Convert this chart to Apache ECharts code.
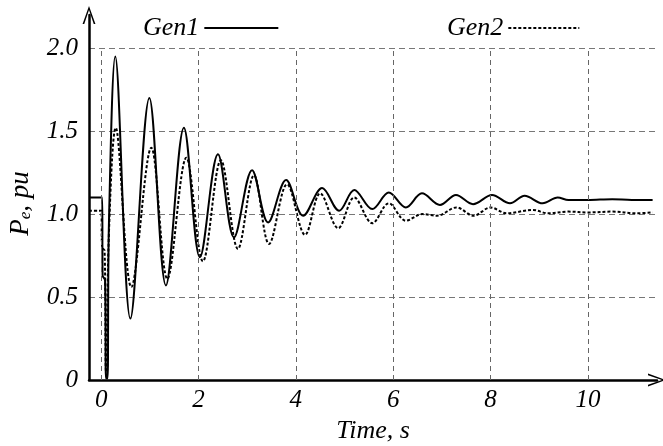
<!DOCTYPE html>
<html>
<head>
<meta charset="utf-8">
<script src="https://cdn.jsdelivr.net/npm/echarts@6/dist/echarts.min.js"></script>
<style>
  html, body { margin: 0; padding: 0; background: #fff; }
  #main { width: 663px; height: 446px; }
</style>
</head>
<body>
<div id="main"></div>
<script>
// time (s), power (pu)
var gen1 = [
  [-0.25, 1.10], [0.02, 1.10], [0.03, 0.63], [0.08, 0.60], [0.10, 0.01], [0.13, 0.01],
  [0.16, 0.95], [0.29, 1.95], [0.60, 0.37], [0.99, 1.70], [1.33, 0.57], [1.70, 1.52],
  [2.03, 0.74], [2.40, 1.36], [2.73, 0.86], [3.10, 1.265], [3.43, 0.95], [3.80, 1.205],
  [4.15, 0.99], [4.54, 1.157], [4.89, 1.02], [5.20, 1.145], [5.57, 1.03], [5.91, 1.13],
  [6.26, 1.04], [6.59, 1.125], [6.96, 1.055], [7.29, 1.115], [7.64, 1.06], [8.03, 1.115],
  [8.40, 1.065], [8.70, 1.11], [9.07, 1.065], [9.38, 1.10], [9.60, 1.085], [10.0, 1.085],
  [10.5, 1.09], [10.9, 1.085], [11.33, 1.085]
];
var gen2 = [
  [-0.25, 1.02], [0.0, 1.02], [0.02, 0.80], [0.07, 0.78], [0.10, 0.05], [0.12, 0.05],
  [0.15, 0.80], [0.30, 1.52], [0.62, 0.56], [1.03, 1.40], [1.36, 0.61], [1.75, 1.34],
  [2.09, 0.715], [2.46, 1.325], [2.81, 0.79], [3.14, 1.235], [3.45, 0.82], [3.82, 1.18],
  [4.19, 0.875], [4.50, 1.125], [4.87, 0.915], [5.20, 1.10], [5.57, 0.945], [5.91, 1.065],
  [6.26, 0.96], [6.60, 1.00], [6.90, 0.99], [7.30, 1.04], [7.65, 0.99], [8.00, 1.04],
  [8.33, 1.005], [8.87, 1.025], [9.18, 1.005], [9.60, 1.015], [10.0, 1.01], [10.5, 1.015],
  [11.0, 1.005], [11.33, 1.01]
];
var xTicks = [0, 2, 4, 6, 8, 10];
var yTicks = [0, 0.5, 1.0, 1.5, 2.0];
var seriesNames = ['Gen1', 'Gen2'];

var serif = 'Liberation Serif';
var arrow = 'path://M5,0 L10,14 L8.7,14 L5,3.2 L1.3,14 L0,14 Z';

var chart = echarts.init(document.getElementById('main'));

// vertical grid lines stop at the 2.0 line
var vLines = xTicks.map(function (t) {
  return [{ coord: [t, 0] }, { coord: [t, yTicks[yTicks.length - 1]] }];
});

var legendText = { fontFamily: serif, fontStyle: 'italic', fontSize: 26, color: '#000' };

var option = {
  backgroundColor: '#fff',
  animation: false,
  grid: { left: 89, right: 6, top: 15, bottom: 66, containLabel: false, outerBoundsMode: 'none' },
  legend: [
    {
      data: [seriesNames[0]], left: 138, top: 10, align: 'right',
      itemWidth: 74, itemHeight: 14, itemGap: 0,
      itemStyle: { opacity: 0 },
      textStyle: legendText
    },
    {
      data: [seriesNames[1]], left: 442, top: 10, align: 'right',
      itemWidth: 71, itemHeight: 14, itemGap: 0,
      itemStyle: { opacity: 0 },
      textStyle: legendText
    }
  ],
  xAxis: {
    type: 'value', min: -0.25, max: 11.42,
    name: 'Time, s', nameLocation: 'middle', nameGap: 38,
    nameTextStyle: { fontFamily: serif, fontStyle: 'italic', fontSize: 26, color: '#000' },
    axisLine: { show: true, onZero: false, symbol: ['none', arrow], symbolSize: [13, 18],
      lineStyle: { color: '#000', width: 2.5 } },
    axisTick: { show: false },
    splitLine: { show: false },
    axisLabel: { customValues: xTicks, margin: 8, fontFamily: serif, fontStyle: 'italic',
      fontSize: 25, color: '#000' }
  },
  yAxis: {
    type: 'value', min: 0, max: 2.2, interval: 0.5,
    name: '{p|P}{s|e}{p|, pu}{g|}', nameLocation: 'middle', nameGap: 55,
    nameTextStyle: {
      rich: {
        p: { fontFamily: serif, fontStyle: 'italic', fontSize: 27, color: '#000' },
        s: { fontFamily: serif, fontStyle: 'italic', fontSize: 17, color: '#000', padding: [10, 0, 0, 0] },
        g: { width: 12 }
      }
    },
    axisLine: { show: true, onZero: false, symbol: ['none', arrow], symbolSize: [13, 18],
      lineStyle: { color: '#000', width: 2.5 } },
    axisTick: { show: false },
    splitLine: { show: true, showMinLine: false, showMaxLine: false,
      lineStyle: { color: '#777', type: [6, 4], width: 1 } },
    axisLabel: {
      showMaxLabel: false, margin: 11, fontFamily: serif, fontStyle: 'italic', fontSize: 25, color: '#000',
      formatter: function (v) {
        if (yTicks.indexOf(v) < 0) return '';
        return v === 0 ? '0' : v.toFixed(1);
      }
    }
  },
  series: [
    {
      name: seriesNames[0], type: 'line', data: gen1, showSymbol: false, symbol: 'none',
      smooth: 0.35, lineStyle: { color: '#000', width: 2 }, itemStyle: { color: '#000' },
      markLine: {
        silent: true, symbol: ['none', 'none'], label: { show: false },
        lineStyle: { color: '#666', type: [5, 4], width: 1 }, data: vLines
      },
      z: 3
    },
    {
      name: seriesNames[1], type: 'line', data: gen2, showSymbol: false, symbol: 'none',
      smooth: 0.35, lineStyle: { color: '#000', width: 2, type: [3, 2] }, itemStyle: { color: '#000' },
      z: 2
    }
  ]
};

chart.setOption(option);
window.addEventListener('resize', chart.resize);
</script>
</body>
</html>
